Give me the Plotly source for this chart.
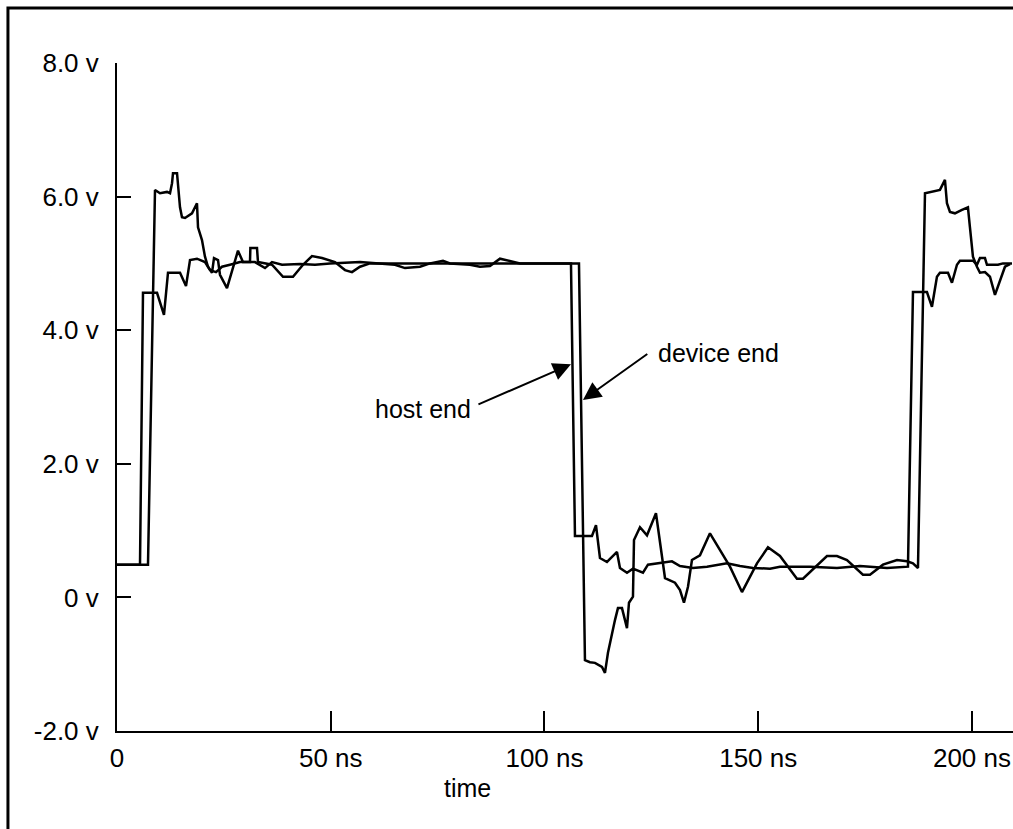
import plotly.graph_objects as go

# host end waveform (ns, volts)
host_t = [0, 5.38, 6.08, 9.36, 10.99, 11.93, 14.74, 16.14, 17.08, 18.71, 20.58, 21.75,
          23.16, 24.56, 26.43, 28.77, 32.28, 34.62, 36.26, 38.60, 42.81, 46.32, 49.82,
          56.84, 65.03, 67.37, 70.88, 73.22, 84.91, 94.27, 106.20, 107.13, 111.11,
          112.05, 112.98, 114.62, 116.96, 117.66, 119.30, 120.70, 123.04, 124.21,
          127.02, 129.82, 131.70, 134.74, 138.01, 142.69, 145.73, 148.77, 152.75,
          155.09, 162.11, 168.42, 173.80, 180.12, 185.03, 186.20, 189.47, 190.64,
          191.81, 192.51, 194.39, 195.32, 196.49, 197.19, 200.23, 201.17, 201.87,
          203.04, 203.51, 206.08, 207.25, 209.36]
host_v = [0.49, 0.49, 4.56, 4.56, 4.23, 4.86, 4.86, 4.66, 5.05, 5.07, 5.02, 4.90,
          4.87, 4.95, 4.98, 5.02, 5.02, 4.93, 5.02, 4.98, 4.99, 4.98, 5.0,
          5.02, 4.98, 4.93, 4.95, 5.0, 5.0, 5.0, 5.0, 0.92, 0.92,
          1.08, 0.59, 0.53, 0.68, 0.44, 0.37, 0.43, 0.37, 0.49,
          0.51, 0.54, 0.47, 0.44, 0.46, 0.51, 0.47, 0.44, 0.43,
          0.46, 0.46, 0.44, 0.47, 0.44, 0.46, 4.57, 4.57, 4.35,
          4.80, 4.86, 4.86, 4.71, 4.98, 5.04, 5.04, 4.98, 5.08,
          5.08, 4.98, 4.98, 5.0, 5.0]

# device end waveform (ns, volts)
dev_t = [0, 7.25, 8.89, 10.06, 11.70, 12.40, 12.87, 13.10, 14.04, 14.27, 14.74, 15.20,
         15.91, 17.54, 18.71, 18.95, 19.88, 20.58, 21.29, 22.22, 22.69, 23.63, 24.09,
         25.73, 26.90, 28.30, 29.47, 31.11, 31.2, 32.75, 32.98, 34.62, 36.26, 38.83,
         41.17, 43.51, 45.61, 47.95, 50.99, 53.33, 54.97, 56.84, 59.18, 73.22, 76.26,
         77.89, 82.57, 84.91, 87.25, 89.59, 91.93, 94.27, 108.07, 109.47, 110.64,
         111.81, 113.45, 114.15, 114.85, 115.79, 116.49, 117.19, 118.13, 119.30,
         119.77, 120.70, 120.94, 122.34, 123.98, 126.08, 127.49, 128.19, 130.53,
         131.70, 132.63, 133.57, 134.50, 136.37, 138.71, 141.05, 143.39, 146.20,
         149.71, 152.28, 155.09, 159.06, 160.47, 166.08, 168.42, 170.76, 174.50,
         176.14, 179.18, 182.46, 184.80, 186.20, 187.37, 189.01, 190.18, 192.51,
         193.68, 194.15, 194.85, 196.02, 197.66, 199.06, 199.53, 200.23, 201.17,
         201.87, 203.04, 204.21, 205.38, 206.55, 207.72, 208.89]
dev_v = [0.49, 0.49, 6.10, 6.05, 6.07, 6.05, 6.20, 6.35, 6.35, 6.14, 5.84, 5.69,
         5.68, 5.75, 5.90, 5.54, 5.35, 5.10, 4.95, 4.86, 5.08, 5.05, 4.83,
         4.63, 4.87, 5.19, 5.02, 5.02, 5.23, 5.23, 5.02, 5.0, 4.98, 4.80,
         4.80, 4.98, 5.11, 5.08, 5.02, 4.90, 4.87, 4.95, 5.0, 5.0, 5.04,
         5.0, 4.98, 4.95, 4.96, 5.07, 5.04, 5.0, 5.0, -0.94, -0.97,
         -0.98, -1.04, -1.13, -0.83, -0.53, -0.34, -0.16, -0.16, -0.46,
         -0.08, 0.01, 0.86, 1.05, 0.93, 1.26, 0.56, 0.29, 0.22,
         0.11, -0.08, 0.16, 0.56, 0.63, 0.96, 0.71, 0.46, 0.08,
         0.51, 0.75, 0.62, 0.28, 0.28, 0.62, 0.62, 0.56, 0.34,
         0.34, 0.49, 0.56, 0.54, 0.51, 0.44, 6.05, 6.07, 6.10,
         6.25, 5.90, 5.77, 5.75, 5.80, 5.84, 5.54, 5.10, 4.95,
         4.86, 4.87, 4.80, 4.53, 4.75, 4.95, 4.99]

x_ticks = [0, 50, 100, 150, 200]
x_labels = ["0", "50 ns", "100 ns", "150 ns", "200 ns"]
y_ticks = [-2, 0, 2, 4, 6, 8]
y_labels = ["-2.0 v", "0 v", "2.0 v", "4.0 v", "6.0 v", "8.0 v"]

FONT = "Liberation Sans, Arial, sans-serif"

fig = go.Figure()
fig.add_trace(go.Scatter(x=host_t, y=host_v, mode="lines", name="host end",
                         line=dict(color="black", width=2.5)))
fig.add_trace(go.Scatter(x=dev_t, y=dev_v, mode="lines", name="device end",
                         line=dict(color="black", width=2.5)))

fig.update_layout(
    width=1013, height=829,
    margin=dict(l=117, r=0, t=63, b=98),
    paper_bgcolor="white", plot_bgcolor="white",
    showlegend=False,
    font=dict(family=FONT, size=25, color="black"),
    xaxis=dict(range=[0, 209.6], tickvals=x_ticks, ticktext=x_labels,
               showgrid=False, zeroline=False, showline=True, linecolor="black",
               linewidth=2, ticks="inside", ticklen=20, tickwidth=2, tickcolor="black",
               ticklabelstandoff=3, automargin=False, tickfont=dict(size=26)),
    yaxis=dict(range=[-2, 8], tickvals=y_ticks, ticktext=y_labels,
               showgrid=False, zeroline=False, showline=True, linecolor="black",
               linewidth=2, ticks="inside", ticklen=14, tickwidth=2, tickcolor="black",
               ticklabelstandoff=11, automargin=False, tickfont=dict(size=26)),
)

# frame round the figure (only left and top edges fall inside the page)
fig.add_shape(type="rect", xref="paper", yref="paper",
              x0=-0.1217, y0=-0.3, x1=1.2, y1=1.0823,
              line=dict(color="black", width=3))

fig.add_annotation(x=82.1, y=-0.0853, xref="x", yref="paper", text="time",
                   showarrow=False, yanchor="middle")
fig.add_annotation(x=71.6, y=2.82, text="host end", showarrow=False)
fig.add_annotation(x=106.2, y=3.49, ax=84.2, ay=2.88, axref="x", ayref="y", text="",
                   showarrow=True, arrowhead=2, arrowsize=1.8, arrowwidth=2,
                   arrowcolor="black")
fig.add_annotation(x=140.6, y=3.66, text="device end", showarrow=False)
fig.add_annotation(x=109.0, y=2.955, ax=124.4, ay=3.66, axref="x", ayref="y", text="",
                   showarrow=True, arrowhead=2, arrowsize=1.8, arrowwidth=2,
                   arrowcolor="black")

# drop the default page margin so the figure sits at the window corner
fig.write_html("out.html",
               config={"displayModeBar": False},
               post_script="document.body.style.margin='0';"
                           "document.body.style.overflow='hidden';")
